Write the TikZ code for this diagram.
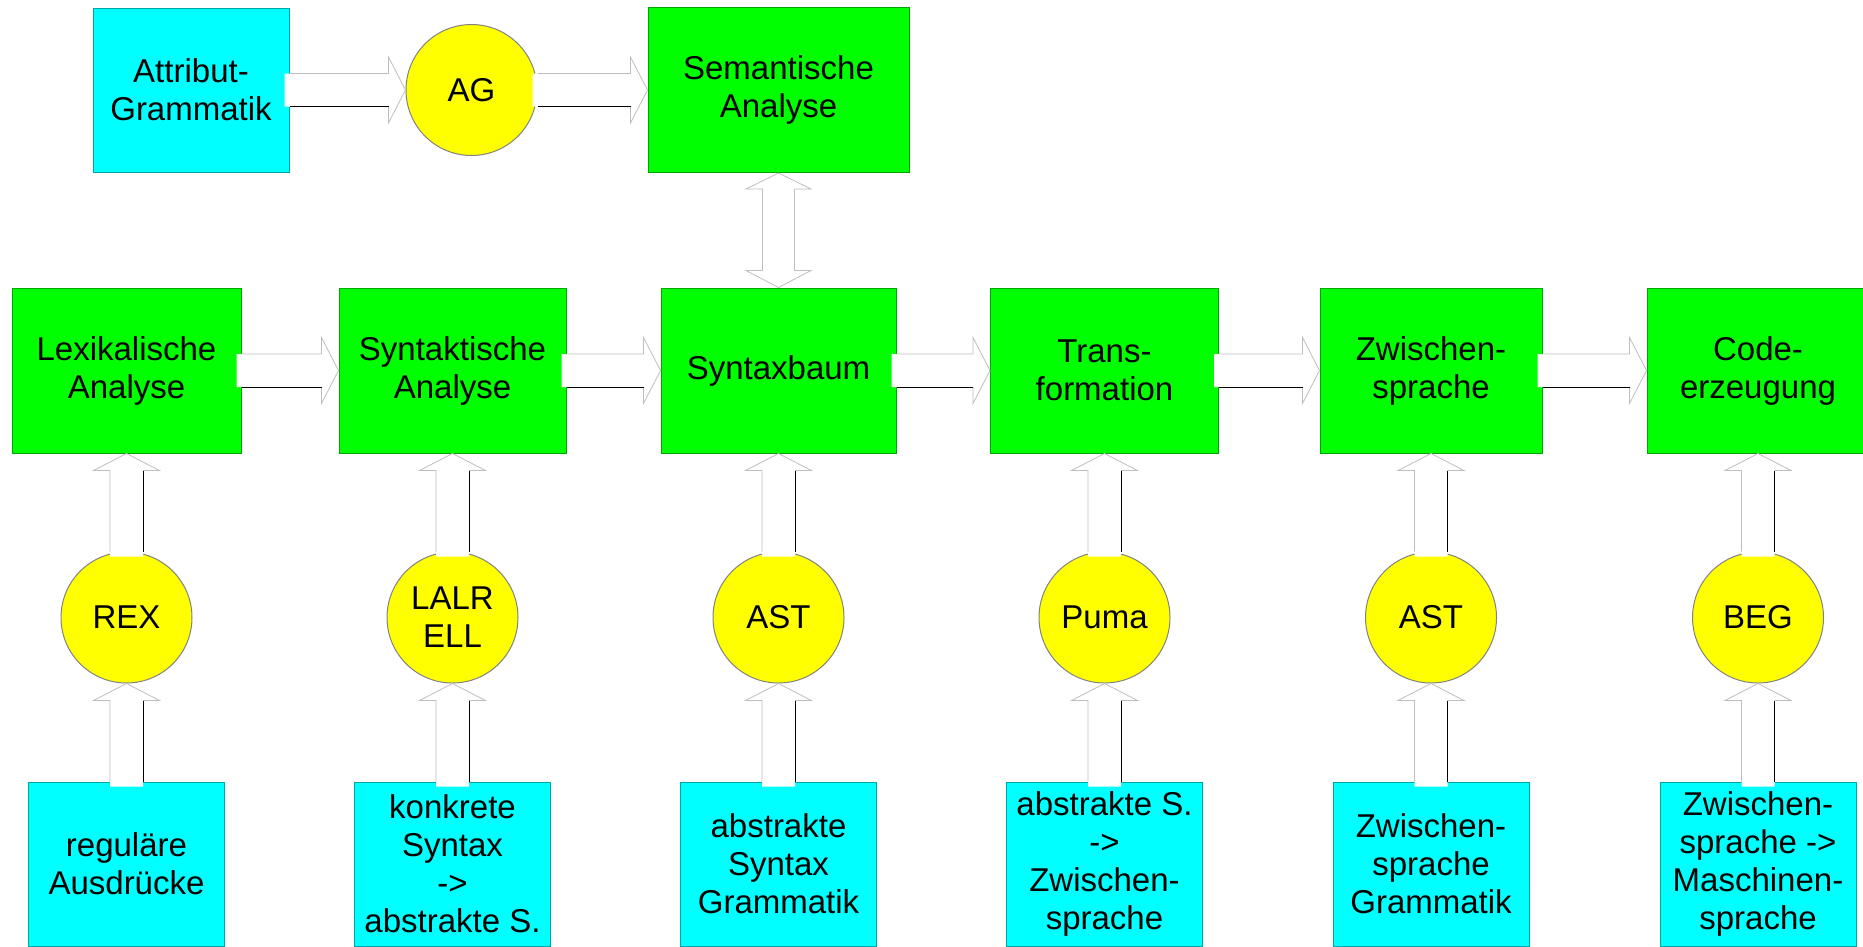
\documentclass[tikz,border=0pt]{standalone}
\usepackage{fontspec}
\setmainfont{Liberation Sans}
\usetikzlibrary{calc}
\definecolor{gruen}{RGB}{0,255,0}
\definecolor{gruenrand}{RGB}{0,165,0}
\definecolor{tuerkis}{RGB}{0,255,255}
\definecolor{tuerkisrand}{RGB}{0,165,165}
\definecolor{gelb}{RGB}{255,255,0}
\definecolor{kreisrand}{RGB}{130,130,130}
\definecolor{pfeilrand}{RGB}{190,190,190}
\tikzset{
  kasten/.style={draw, line width=1pt, inner sep=0pt, align=center, font=\fontsize{33}{38}\selectfont},
  phase/.style={kasten, fill=gruen, draw=gruenrand, minimum height=165pt},
  grammatik/.style={kasten, fill=tuerkis, draw=tuerkisrand, minimum width=196pt, minimum height=164pt},
  werkzeug/.style={kasten, circle, fill=gelb, draw=kreisrand, minimum size=131pt},
  pfeilgrau/.style={draw=pfeilrand, line width=0.8pt, line join=miter},
  pfeilschwarz/.style={draw=black, line width=0.8pt}
}
\newcommand{\arrowR}[2]{\fill[white] ($(#1.east)+(-5,-16.5)$) -- ($(#2.west)+(-17,-16.5)$) -- ($(#2.west)+(-17,-33)$) -- (#2.west) -- ($(#2.west)+(-17,33)$) -- ($(#2.west)+(-17,16.5)$) -- ($(#1.east)+(-5,16.5)$) -- cycle; \draw[pfeilgrau] ($(#1.east)+(0,-16.5)$) -- ($(#2.west)+(-17,-16.5)$) -- ($(#2.west)+(-17,-33)$) -- (#2.west) -- ($(#2.west)+(-17,33)$) -- ($(#2.west)+(-17,16.5)$); \draw[pfeilschwarz] ($(#2.west)+(-17,16.5)$) -- ($(#1.east)+(0,16.5)$);}
\newcommand{\arrowU}[2]{\fill[white] ($(#1.north)+(-16.5,5)$) -- ($(#2.south)+(-16.5,17)$) -- ($(#2.south)+(-33,17)$) -- (#2.south) -- ($(#2.south)+(33,17)$) -- ($(#2.south)+(16.5,17)$) -- ($(#1.north)+(16.5,5)$) -- cycle; \draw[pfeilgrau] ($(#1.north)+(-16.5,0)$) -- ($(#2.south)+(-16.5,17)$) -- ($(#2.south)+(-33,17)$) -- (#2.south) -- ($(#2.south)+(33,17)$) -- ($(#2.south)+(16.5,17)$); \draw[pfeilschwarz] ($(#2.south)+(16.5,17)$) -- ($(#1.north)+(16.5,0)$);}
\newcommand{\arrowUD}[2]{\draw[pfeilgrau, fill=white] (#1.south) -- ($(#1.south)+(32.5,16)$) -- ($(#1.south)+(16,16)$) -- ($(#2.north)+(16,-17)$) -- ($(#2.north)+(32.5,-17)$) -- (#2.north) -- ($(#2.north)+(-32.5,-17)$) -- ($(#2.north)+(-16,-17)$) -- ($(#1.south)+(-16,16)$) -- ($(#1.south)+(-32.5,16)$) -- cycle;}
\begin{document}
\begin{tikzpicture}[x=1pt,y=-1pt]
    \useasboundingbox (0,0) rectangle (1863,946);
    \node[grammatik] (attrgr) at (191,90) {Attribut-\\Grammatik};
    \node[werkzeug] (ag) at (471.5,90) {AG};
    \node[phase, minimum width=261pt] (sem) at (778.5,90) {Semantische\\Analyse};

    \node[phase, minimum width=229pt] (lex) at (126.5,370.5) {Lexikalische\\Analyse};
    \node[phase, minimum width=227pt] (synt) at (452.5,370.5) {Syntaktische\\Analyse};
    \node[phase, minimum width=235pt] (baum) at (778.5,370.5) {Syntaxbaum};
    \node[phase, minimum width=228pt] (trans) at (1104.5,370.5) {Trans-\\formation};
    \node[phase, minimum width=222pt] (zwi) at (1431,370.5) {Zwischen-\\sprache};
    \node[phase, minimum width=222pt] (code) at (1758,370.5) {Code-\\erzeugung};

    \node[werkzeug] (rex) at (126.5,617.5) {REX};
    \node[werkzeug] (lalr) at (452.5,617.5) {LALR\\ELL};
    \node[werkzeug] (ast) at (778.5,617.5) {AST};
    \node[werkzeug] (puma) at (1104.5,617.5) {Puma};
    \node[werkzeug] (astz) at (1431,617.5) {AST};
    \node[werkzeug] (beg) at (1758,617.5) {BEG};

    \node[grammatik] (regaus) at (126.5,864) {reguläre\\Ausdrücke};
    \node[grammatik] (konkret) at (452.5,864) {konkrete\\Syntax\\->\\abstrakte S.};
    \node[grammatik] (abstrakt) at (778.5,864) {abstrakte\\Syntax\\Grammatik};
    \node[grammatik] (abszwi) at (1104.5,864) {abstrakte S.\\->\\Zwischen-\\sprache};
    \node[grammatik] (zwigr) at (1431,864) {Zwischen-\\sprache\\Grammatik};
    \node[grammatik] (maschine) at (1758,864) {Zwischen-\\sprache ->\\Maschinen-\\sprache};

    \arrowR{attrgr}{ag}
    \arrowR{ag}{sem}
    \arrowUD{sem}{baum}
    \arrowR{lex}{synt}
    \arrowR{synt}{baum}
    \arrowR{baum}{trans}
    \arrowR{trans}{zwi}
    \arrowR{zwi}{code}

    \arrowU{rex}{lex}
    \arrowU{lalr}{synt}
    \arrowU{ast}{baum}
    \arrowU{puma}{trans}
    \arrowU{astz}{zwi}
    \arrowU{beg}{code}
    \arrowU{regaus}{rex}
    \arrowU{konkret}{lalr}
    \arrowU{abstrakt}{ast}
    \arrowU{abszwi}{puma}
    \arrowU{zwigr}{astz}
    \arrowU{maschine}{beg}
\end{tikzpicture}
\end{document}
